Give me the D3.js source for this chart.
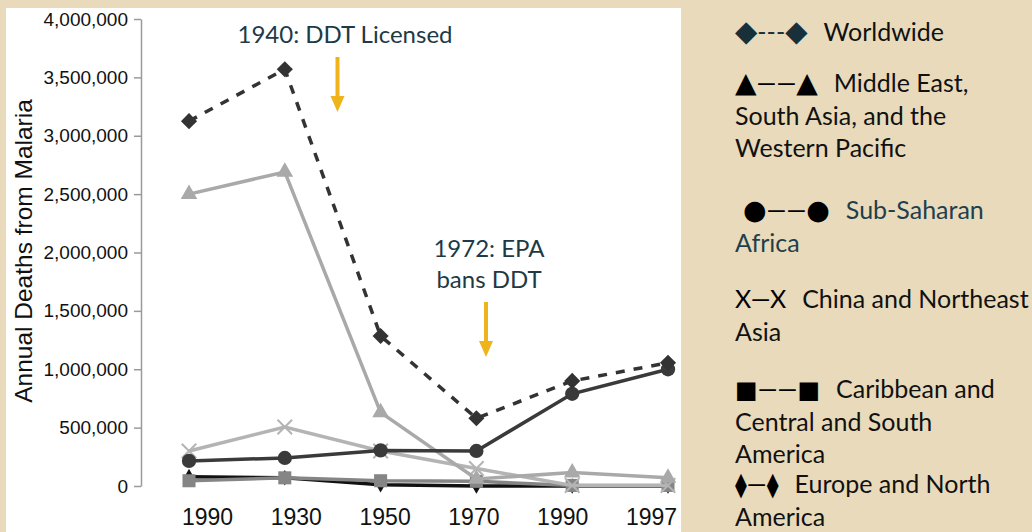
<!DOCTYPE html>
<html>
<head>
<meta charset="utf-8">
<script src="https://cdn.jsdelivr.net/npm/d3@7"></script>
<style>
  body { margin: 0; background: #e8dabb; }
  svg { display: block; }
</style>
</head>
<body>
<div id="chart"></div>
<script>
"use strict";

// categories along the x axis (as printed on the original)
const yearLabels = ["1990", "1930", "1950", "1970", "1990", "1997"];

// annual deaths per region, one value per category
const worldwide   = [3125000, 3570000, 1285000, 580000, 900000, 1055000];
const middleEast  = [2500000, 2690000, 630000, 60000, 115000, 70000];
const subSaharan  = [215000, 240000, 305000, 300000, 790000, 1000000];
const chinaNE     = [300000, 505000, 300000, 150000, 5000, 5000];
const caribbean   = [45000, 70000, 45000, 40000, 5000, 5000];
const europeNA    = [80000, 70000, 10000, 0, 0, 0];

const yTicks = [0, 500000, 1000000, 1500000, 2000000, 2500000, 3000000, 3500000, 4000000];

// annotations: position along category index, text lines
const notes = [
    { at: 1.55, lines: ["1940: DDT Licensed"] },
    { at: 3.1, lines: ["1972: EPA", "bans DDT"] }
];

// legend: key glyphs, first line of label, continuation lines
const legendKeys = ["\u25C6---\u25C6", "\u25B2\u2014\u2014\u25B2", "\u25CF\u2014\u2014\u25CF", "X\u2014X", "\u25A0\u2014\u2014\u25A0", "\u29EB\u2014\u29EB"];
const legendLabels = [
    ["Worldwide"],
    ["Middle East,", "South Asia, and the", "Western Pacific"],
    ["Sub-Saharan", "Africa"],
    ["China and Northeast", "Asia"],
    ["Caribbean and", "Central and South", "America"],
    ["Europe and North", "America"]
];

const width = 1032, height = 532;
const serif = "Lato, 'Open Sans', sans-serif";
const arial = "'Liberation Sans', Arial, sans-serif";

let svg = d3.select("#chart").append("svg")
    .attr("width", width)
    .attr("height", height);

// white chart panel
svg.append("rect")
    .attr("x", 6).attr("y", 8)
    .attr("width", 675).attr("height", height - 8)
    .attr("fill", "#ffffff");

const x = d3.scalePoint()
    .domain(d3.range(yearLabels.length))
    .range([189, 668]);

// the printed year labels sit on a slightly narrower spacing than the points
const xLabel = d3.scalePoint()
    .domain(d3.range(yearLabels.length))
    .range([207, 651]);

const y = d3.scaleLinear()
    .domain([0, 4000000])
    .range([486, 19]);

// position between categories for annotations
const xAt = v => {
    const i = Math.floor(v), f = v - i;
    return x(i) + f * (x(i + 1) - x(i));
};

// y axis
let yAxis = svg.append("g")
    .attr("transform", "translate(141,0)")
    .call(d3.axisLeft(y).tickValues(yTicks).tickFormat(d3.format(",")).tickSize(7).tickSizeOuter(0).tickPadding(6));
yAxis.select(".domain").attr("stroke", "#9a9a9a").attr("stroke-width", 1.5);
yAxis.selectAll(".tick line").attr("stroke", "#9a9a9a").attr("stroke-width", 1.5);
yAxis.selectAll(".tick text")
    .attr("font-family", arial)
    .attr("font-size", 19)
    .attr("fill", "#111");

svg.append("text")
    .attr("transform", "translate(32,251) rotate(-90)")
    .attr("text-anchor", "middle")
    .attr("font-family", arial)
    .attr("font-size", 24.5)
    .attr("fill", "#111")
    .text("Annual Deaths from Malaria");

// x axis: labels only
let xAxis = svg.append("g")
    .attr("transform", "translate(0,508)")
    .call(d3.axisBottom(xLabel).tickFormat(i => yearLabels[i]).tickSize(0).tickPadding(0));
xAxis.select(".domain").remove();
xAxis.selectAll(".tick text")
    .attr("font-family", arial)
    .attr("font-size", 23)
    .attr("fill", "#111")
    .attr("dy", "0.76em");

// series definitions (drawn bottom to top)
const series = [
    { values: europeNA,   color: "#111111", dash: null, symbol: d3.symbolDiamond, size: 70, rotate: 0 },
    { values: caribbean,  color: "#858585", dash: null, symbol: d3.symbolSquare, size: 170, rotate: 0 },
    { values: chinaNE,    color: "#b4b4b4", dash: null, symbol: d3.symbolTimes, size: 140, rotate: 0, stroke: true },
    { values: middleEast, color: "#a9a9a9", dash: null, symbol: d3.symbolTriangle, size: 120, rotate: 0 },
    { values: subSaharan, color: "#3a3a3a", dash: null, symbol: d3.symbolCircle, size: 160, rotate: 0 },
    { values: worldwide,  color: "#333333", dash: "9,9", symbol: d3.symbolSquare, size: 130, rotate: 45 }
];

const line = d3.line()
    .x((d, i) => x(i))
    .y(d => y(d));

series.forEach(s => {
    svg.append("path")
        .datum(s.values)
        .attr("d", line)
        .attr("fill", "none")
        .attr("stroke", s.color)
        .attr("stroke-width", 3.5)
        .attr("stroke-dasharray", s.dash);

    svg.selectAll(null)
        .data(s.values)
        .enter()
        .append("path")
        .attr("transform", (d, i) => `translate(${x(i)},${y(d)}) rotate(${s.rotate})`)
        .attr("d", d3.symbol().type(s.symbol).size(s.size))
        .attr("fill", s.stroke ? "none" : s.color)
        .attr("stroke", s.stroke ? s.color : "none")
        .attr("stroke-width", s.stroke ? 2 : 0);
});

// annotations with golden arrows
notes.forEach((n, k) => {
    const cx = xAt(n.at);
    const top = k === 0 ? 43 : 257;
    n.lines.forEach((t, j) => {
        svg.append("text")
            .attr("x", k === 0 ? 345 : cx + 3)
            .attr("y", top + j * 31)
            .attr("text-anchor", "middle")
            .attr("font-family", serif)
            .attr("font-size", 24)
            .attr("fill", "#1d3a46")
            .text(t);
    });
    const y0 = top + (n.lines.length - 1) * 31 + 14;
    const y1 = y0 + 55;
    svg.append("line")
        .attr("x1", cx).attr("x2", cx)
        .attr("y1", y0).attr("y2", y1 - 14)
        .attr("stroke", "#efb41b")
        .attr("stroke-width", 4);
    svg.append("path")
        .attr("d", `M${cx - 7},${y1 - 16}L${cx + 7},${y1 - 16}L${cx},${y1}Z`)
        .attr("fill", "#efb41b");
});

// legend text on the right
const legendTop = [41, 92, 219, 308, 398, 493];
const glyphSize = { "\u25C6": 29, "\u25B2": 28, "\u25CF": 27, "\u25A0": 24, "\u29EB": 24 };
legendKeys.forEach((key, k) => {
    const teal = k === 2;
    const keyColor = k === 0 ? "#17303a" : "#000";
    let kt = svg.append("text")
        .attr("x", k === 2 ? 743 : 735)
        .attr("y", legendTop[k])
        .attr("font-size", 25)
        .attr("fill", keyColor);
    // geometric glyphs from DejaVu, dashes from the text face
    key.split("").forEach(ch => {
        const geo = glyphSize[ch] !== undefined;
        kt.append("tspan")
            .attr("font-family", geo ? "'DejaVu Sans', sans-serif" : serif)
            .attr("font-size", geo ? glyphSize[ch] : 25)
            .text(ch);
    });
    const kx = (k === 2 ? 743 : 735) + kt.node().getComputedTextLength() + 16;
    legendLabels[k].forEach((lbl, j) => {
        svg.append("text")
            .attr("x", j === 0 ? kx : 735)
            .attr("y", legendTop[k] + j * 32.5)
            .attr("font-family", serif)
            .attr("font-size", 25)
            .attr("fill", teal ? "#1f3f4c" : "#111")
            .text(lbl);
    });
});
</script>
</body>
</html>
